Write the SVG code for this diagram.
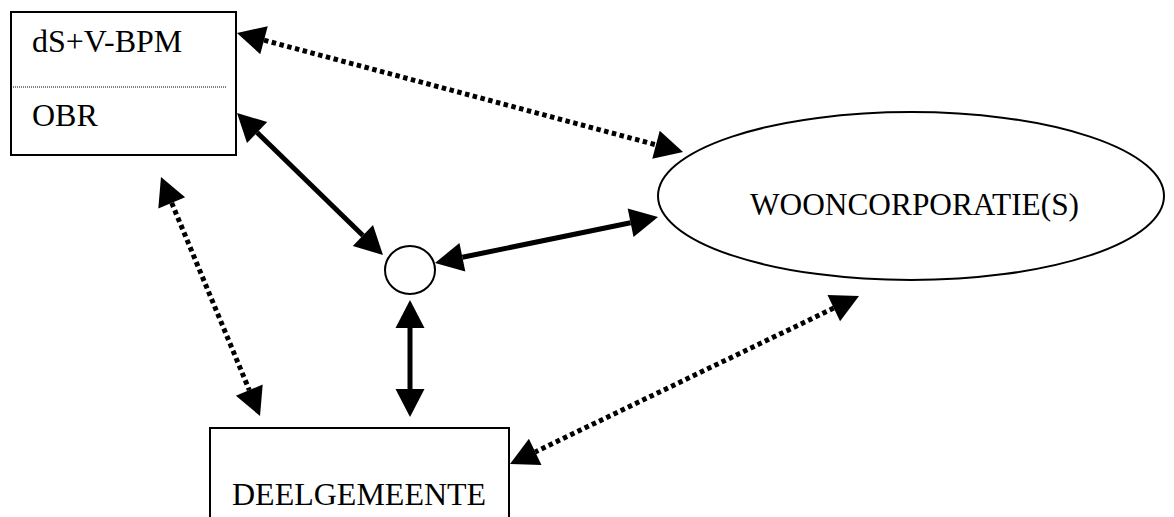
<svg xmlns="http://www.w3.org/2000/svg" width="1174" height="517" viewBox="0 0 1174 517">
<style>
.shape{fill:#fff;stroke:#000;stroke-width:2}
.lbl{font-family:"Liberation Serif","Times New Roman",serif;font-size:32px;fill:#000}
.solid{stroke:#000;stroke-width:5;fill:none}
.dot{stroke:#000;stroke-width:5;fill:none;stroke-dasharray:4.5 3.5}
</style>
<defs>
<marker id="ah" markerUnits="userSpaceOnUse" markerWidth="32" markerHeight="32" viewBox="0 -16 30 32" refX="0" refY="0" orient="auto-start-reverse">
<path d="M0,-14.5 L28,0 L0,14.5 Z" fill="#000"/>
</marker>
</defs>
<rect width="1174" height="517" fill="#fff"/>
<g id="connectors">
<line class="dot" x1="264" y1="40.2" x2="656" y2="144.8" marker-start="url(#ah)" marker-end="url(#ah)"/>
<line class="solid" x1="257.1" y1="132.5" x2="362.9" y2="235.5" marker-start="url(#ah)" marker-end="url(#ah)"/>
<line class="solid" x1="462.4" y1="257.3" x2="630.6" y2="222.7" marker-start="url(#ah)" marker-end="url(#ah)"/>
<line class="solid" x1="410" y1="328" x2="410" y2="389" marker-start="url(#ah)" marker-end="url(#ah)"/>
<line class="dot" x1="171.7" y1="202.9" x2="249.3" y2="390.1" marker-start="url(#ah)" marker-end="url(#ah)"/>
<line class="dot" x1="833.8" y1="308.1" x2="535.2" y2="451.9" marker-start="url(#ah)" marker-end="url(#ah)"/>
</g>
<g id="node-bpm-obr">
<rect class="shape" x="11" y="12" width="225" height="143"/>
<line x1="13" y1="87" x2="226" y2="87" stroke="#000" stroke-width="1" stroke-dasharray="1 1"/>
<text class="lbl" x="32" y="52">dS+V-BPM</text>
<text class="lbl" x="32" y="126">OBR</text>
</g>
<g id="node-woon">
<ellipse class="shape" cx="911" cy="196" rx="253" ry="84"/>
<text class="lbl" x="750" y="215" textLength="329" lengthAdjust="spacingAndGlyphs">WOONCORPORATIE(S)</text>
</g>
<g id="node-hub">
<ellipse class="shape" cx="410" cy="270" rx="25" ry="24"/>
</g>
<g id="node-deel">
<rect class="shape" x="210" y="428" width="299" height="100"/>
<text class="lbl" x="232" y="505">DEELGEMEENTE</text>
</g>
</svg>
